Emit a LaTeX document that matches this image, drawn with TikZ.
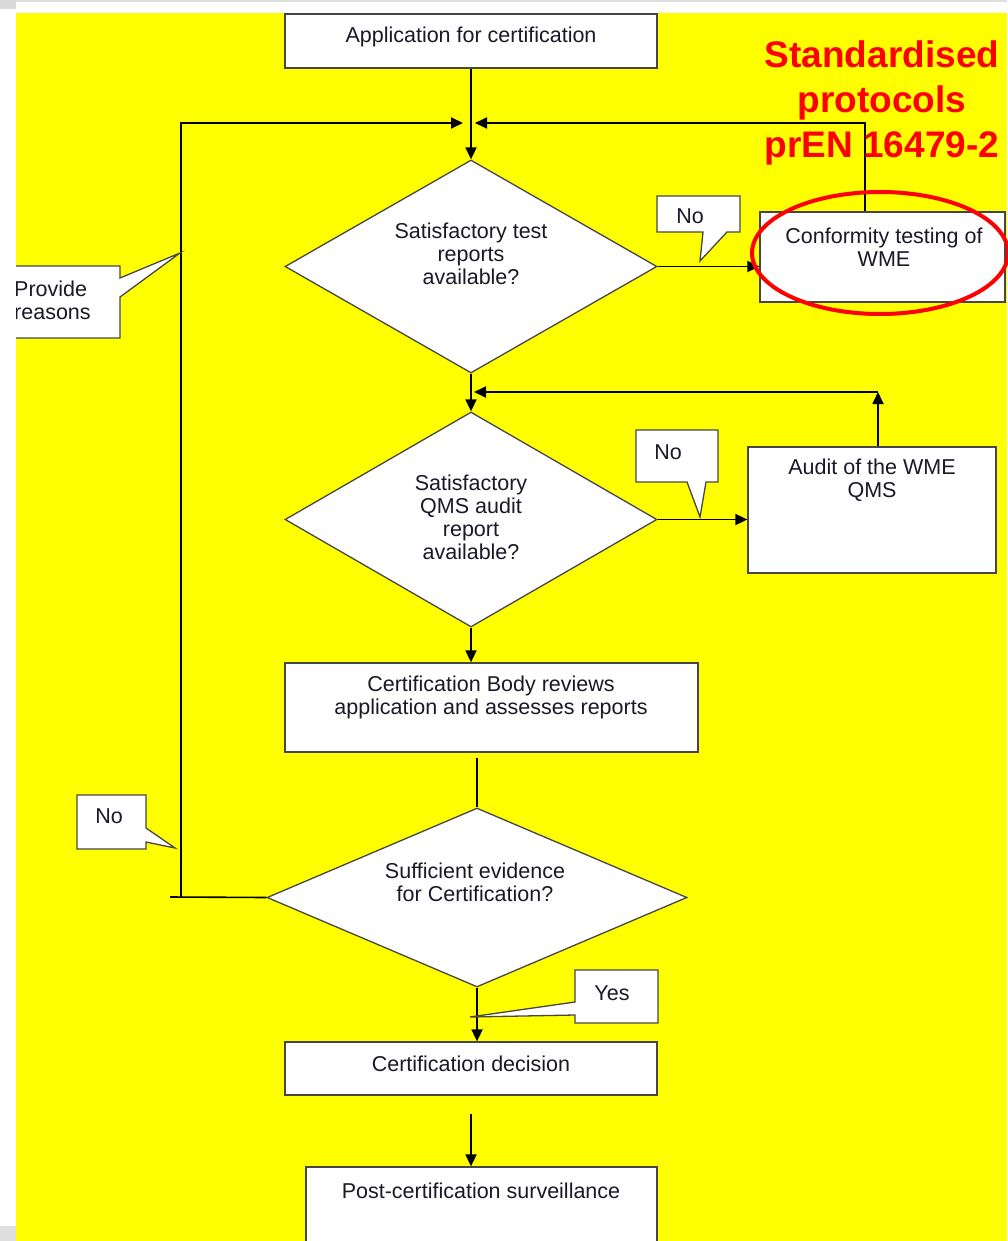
\documentclass[tikz,border=0pt]{standalone}
\usepackage{fontspec}
\setmainfont{Liberation Sans}
\usetikzlibrary{arrows.meta,shapes.geometric}
\definecolor{bgyellow}{RGB}{255,255,0}
\definecolor{edgegray}{RGB}{70,70,70}
\definecolor{inkcol}{RGB}{25,25,40}
\begin{document}
\begin{tikzpicture}[x=1pt,y=-1pt,
  box/.style={draw=edgegray, line width=1.3pt, fill=white, rectangle, inner sep=0pt},
  diam/.style={draw=edgegray, line width=1.3pt, fill=white, diamond, inner sep=0pt},
  bubble/.style={draw=edgegray, line width=1.3pt, fill=white, line join=miter},
  txt/.style={font=\fontsize{21.5}{23}\selectfont, align=center, inner sep=0pt, text=inkcol},
  arr/.style={-{Triangle[length=12pt,width=11pt]}, line width=1.8pt, black},
  ln/.style={line width=1.6pt, black}]
\useasboundingbox (0,0) rectangle (1007,1241);
% background
\fill[white] (0,0) rectangle (1007,1241);
\fill[gray!25] (0,0) rectangle (1007,2);
\fill[gray!30] (0,0) rectangle (16,9);
\fill[gray!25] (0,1226) rectangle (16,1241);
\fill[bgyellow] (16,13) rectangle (1007,1241);

% junction coordinates
\coordinate (j1) at (471,123);
\coordinate (j2) at (471,392);
\coordinate (lb) at (181,897);
\coordinate (le) at (170,897);
\coordinate (c1) at (477,758);

% boxes and decisions
\node[box, minimum width=372, minimum height=54] (app) at (471,41) {};
\node[txt] (appt) at (471,37) {Application for certification};

\node[diam, minimum width=372, minimum height=213] (d1) at (471,266.5) {};
\node[txt] (d1t) at (471,254) {Satisfactory test\\reports\\available?};

\node[box, minimum width=245, minimum height=90] (conf) at (882.5,257) {};
\node[txt] (conft) at (884,247) {Conformity testing of\\WME};

\node[diam, minimum width=372, minimum height=215] (d2) at (471,519.5) {};
\node[txt] (d2t) at (471,517) {Satisfactory\\QMS audit\\report\\available?};

\node[box, minimum width=248, minimum height=126] (audit) at (872,510) {};
\node[txt] (auditt) at (872,480) {Audit of the WME\\QMS};

\node[box, minimum width=413, minimum height=89] (cb) at (491.5,707.5) {};
\node[txt] (cbt) at (491,697) {Certification Body reviews\\application and assesses reports};

\node[diam, minimum width=420, minimum height=179] (d3) at (477,897.5) {};
\node[txt] (d3t) at (475,882) {Sufficient evidence\\for Certification?};

\node[box, minimum width=372, minimum height=53] (cd) at (471,1068.5) {};
\node[txt] (cdt) at (471,1064) {Certification decision};

\node[box, minimum width=351, minimum height=83] (post) at (481.5,1208.5) {};
\node[txt] (postt) at (481,1191) {Post-certification surveillance};

\coordinate (cd2) at ([yshift=-18pt]cd.south);
\coordinate (cn) at ([xshift=-17.5pt]conf.north);
\coordinate (an) at ([xshift=6pt]audit.north);

% connectors
\draw[arr] (app.south) -- (d1.north);
\draw[ln] (cn) |- ([xshift=5pt]j1);
\draw[arr] (cn |- j1) -- ([xshift=4pt]j1);
\draw[ln] (d3.west) -- (le);
\draw[arr] (lb) |- ([xshift=-8pt]j1);
\draw[arr] (d1.east) -- (d1.east -| conf.west);
\draw[arr] (d1.south) -- (d2.north);
\draw[arr] (an) -- (an |- j2);
\draw[arr] (an |- j2) -- ([xshift=3pt]j2);
\draw[arr] (d2.east) -- (d2.east -| audit.west);
\draw[arr] (d2.south) -- (d2.south |- cb.north);
\draw[ln] (c1) -- (d3.north);
\draw[arr] (d3.south) -- (d3.south |- cd.north);
\draw[arr] (cd2) -- (cd2 |- post.north);

% callouts
\draw[bubble] (657,196) -- (740,196) -- (740,232) -- (727,232) -- (700,261) -- (703,232) -- (657,232) -- cycle;
\node[txt] (no1) at (690,216) {No};
\draw[bubble] (636,430) -- (718,430) -- (718,482) -- (706,482) -- (700,517) -- (687,482) -- (636,482) -- cycle;
\node[txt] (no2) at (668,452) {No};
\draw[bubble] (77,795) -- (146,795) -- (146,828) -- (175,848) -- (146,842) -- (146,849) -- (77,849) -- cycle;
\node[txt] (no3) at (109,816) {No};
\draw[bubble] (575,970) -- (658,970) -- (658,1023) -- (575,1023) -- (575,1015) -- (470,1017) -- (575,1002) -- cycle;
\node[txt] (yes) at (612,993) {Yes};
\begin{scope}
\clip (16,0) rectangle (1007,1241);
\draw[bubble] (0,266) -- (120,266) -- (120,278) -- (180,253) -- (120,297) -- (120,338) -- (0,338) -- cycle;
\node[txt, align=left, anchor=west] (prov) at (14,300) {Provide\\reasons};
\end{scope}

% annotation
\node[draw=red, ellipse, line width=4pt, minimum width=256, minimum height=122, inner sep=0pt] (ring) at (880,253) {};
\node[font=\bfseries\fontsize{37}{45}\selectfont, text=red, align=center, inner sep=0pt] (std) at (882,103) {Standardised\\protocols\\prEN 16479-2};
\end{tikzpicture}
\end{document}
